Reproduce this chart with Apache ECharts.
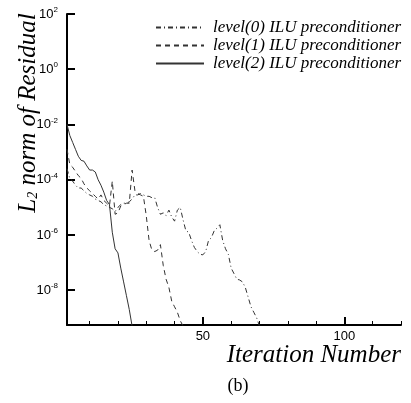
<!DOCTYPE html>
<html>
<head>
<meta charset="utf-8">
<script src="https://cdn.jsdelivr.net/npm/echarts@6/dist/echarts.min.js"></script>
<style>html,body{margin:0;padding:0;background:#fff;}#c{width:411px;height:403px;}</style>
</head>
<body>
<div id="c"></div>
<script>
// Iteration numbers (start at 2) and log10 of the L2 residual
const seriesNames = ['level(0) ILU preconditioner', 'level(1) ILU preconditioner', 'level(2) ILU preconditioner'];
const level0Start = 2;
const level0Exp = [-3.6,-3.95,-4.05,-4.2,-4.3,-4.3,-4.4,-4.5,-4.55,-4.6,-4.7,-4.75,-4.8,-4.9,-4.95,-5.0,-5.05,-5.15,-5.0,-4.9,-4.85,-4.85,-4.8,-4.7,-4.55,-4.55,-4.5,-4.55,-4.6,-4.6,-4.65,-4.65,-5.0,-5.25,-5.2,-5.3,-5.1,-5.35,-5.5,-5.1,-5.0,-5.45,-5.85,-5.9,-6.2,-6.45,-6.6,-6.7,-6.72,-6.6,-6.2,-6.1,-5.85,-5.75,-5.63,-6.2,-6.5,-6.7,-7.2,-7.4,-7.6,-7.63,-7.7,-7.9,-8.25,-8.6,-8.8,-9.0,-9.3];
const level1Start = 2;
const level1Exp = [-2.9,-3.45,-3.55,-3.7,-3.85,-3.95,-4.15,-4.3,-4.4,-4.5,-4.6,-4.7,-4.55,-4.75,-4.85,-4.95,-4.05,-5.25,-5.2,-4.95,-4.9,-4.85,-4.85,-3.65,-4.4,-4.5,-4.55,-4.6,-5.3,-6.2,-6.55,-6.6,-6.55,-6.35,-7.1,-7.6,-7.9,-8.4,-8.6,-8.8,-9.1,-9.3];
const level2Start = 2;
const level2Exp = [-2.0,-2.4,-2.65,-2.9,-3.15,-3.3,-3.33,-3.5,-3.65,-3.65,-3.72,-4.0,-4.2,-4.45,-4.75,-4.9,-5.9,-6.5,-6.65,-7.2,-7.7,-8.2,-8.7,-9.3];
const yTickValues = [1e-8, 1e-6, 1e-4, 1e-2, 1e0, 1e2];
const xMajorTicks = [50, 100];
const xMinorTicks = [10, 20, 30, 40, 60, 70, 80, 90, 110, 120];

function toData(start, exps) {
  return exps.map((e, i) => [start + i, Math.pow(10, e)]);
}

const chart = echarts.init(document.getElementById('c'), null, {renderer: 'canvas'});
const lineColor = '#333';
const option = {
  animation: false,
  backgroundColor: '#fff',
  grid: {left: 67, right: 10, top: 14, bottom: 78},
  legend: {
    orient: 'vertical',
    left: 150,
    top: 14,
    itemWidth: 48,
    itemHeight: 12,
    itemGap: 1,
    data: seriesNames,
    itemStyle: {opacity: 0},
    textStyle: {fontFamily: 'Liberation Serif', fontStyle: 'italic', fontSize: 17, lineHeight: 17, color: '#000', padding: [0, 0, 0, 4]}
  },
  xAxis: [{
    type: 'value', min: 2, max: 120,
    axisLine: {show: true, lineStyle: {color: '#000', width: 2}},
    axisTick: {show: true, inside: true, length: 8, customValues: xMajorTicks, lineStyle: {color: '#000', width: 2}},
    axisLabel: {customValues: xMajorTicks, color: '#000', fontFamily: 'Liberation Sans', fontSize: 13, margin: 5},
    splitLine: {show: false}
  }, {
    type: 'value', min: 2, max: 120, position: 'bottom',
    axisLine: {show: false},
    axisTick: {show: true, inside: true, length: 4, customValues: xMinorTicks, lineStyle: {color: '#000', width: 1}},
    axisLabel: {show: false},
    splitLine: {show: false}
  }],
  yAxis: {
    type: 'log', logBase: 10, min: 5.5e-10, max: 100,
    axisLine: {show: true, lineStyle: {color: '#000', width: 2}},
    axisTick: {show: true, inside: true, length: 8, customValues: yTickValues, lineStyle: {color: '#000', width: 2}},
    axisLabel: {
      customValues: yTickValues, margin: 9, color: '#000',
      formatter: function (v) { return '{b|10}{s|' + Math.round(Math.log10(v)) + '}'; },
      rich: {
        b: {fontFamily: 'Liberation Sans', fontSize: 13, color: '#000', lineHeight: 16},
        s: {fontFamily: 'Liberation Sans', fontSize: 8, color: '#000', verticalAlign: 'top'}
      }
    },
    splitLine: {show: false},
    minorTick: {show: false}
  },
  graphic: [{
    type: 'text', x: 28, y: 113, rotation: Math.PI / 2,
    style: {
      text: '{i|L}{s|2}{i| norm of Residual}',
      align: 'center', verticalAlign: 'middle',
      rich: {
        i: {fontFamily: 'Liberation Serif', fontStyle: 'italic', fontSize: 25, fill: '#000'},
        s: {fontFamily: 'Liberation Serif', fontStyle: 'italic', fontSize: 14, fill: '#000', verticalAlign: 'bottom'}
      }
    }
  }, {
    type: 'text', x: 401, y: 355,
    style: {text: 'Iteration Number', align: 'right', verticalAlign: 'middle', font: 'italic 25px "Liberation Serif"', fill: '#000'}
  }, {
    type: 'text', x: 238, y: 386,
    style: {text: '(b)', align: 'center', verticalAlign: 'middle', font: '18px "Liberation Serif"', fill: '#000'}
  }],
  series: [{
    name: seriesNames[0], type: 'line', symbol: 'none', xAxisIndex: 0,
    data: toData(level0Start, level0Exp),
    lineStyle: {color: lineColor, width: 1, type: [5, 3, 1, 3]}, itemStyle: {color: lineColor}
  }, {
    name: seriesNames[1], type: 'line', symbol: 'none', xAxisIndex: 0,
    data: toData(level1Start, level1Exp),
    lineStyle: {color: lineColor, width: 1, type: [5, 4]}, itemStyle: {color: lineColor}
  }, {
    name: seriesNames[2], type: 'line', symbol: 'none', xAxisIndex: 0,
    data: toData(level2Start, level2Exp),
    lineStyle: {color: lineColor, width: 1, type: 'solid'}, itemStyle: {color: lineColor}
  }]
};
chart.setOption(option);
</script>
</body>
</html>
